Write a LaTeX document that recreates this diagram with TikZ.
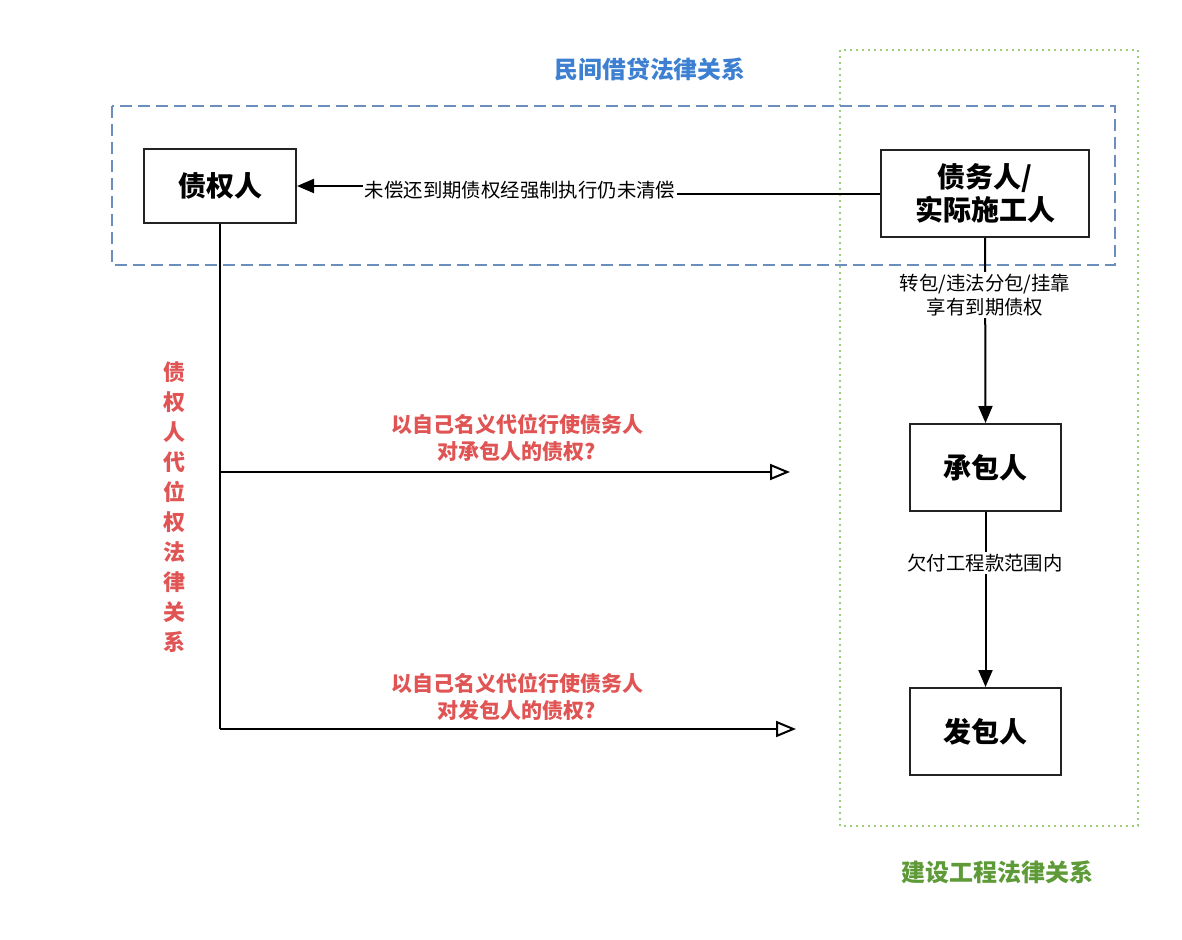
\documentclass[tikz,border=0pt]{standalone}
\usepackage{fontspec}
\setmainfont{Noto Sans CJK SC}
\usetikzlibrary{arrows.meta,calc}
\definecolor{bluedash}{HTML}{6C8EBF}
\definecolor{bluetitle}{HTML}{3D80D2}
\definecolor{greendot}{HTML}{9AD07A}
\definecolor{greentitle}{HTML}{5E9B38}
\definecolor{redtxt}{HTML}{E05454}
\definecolor{boxline}{HTML}{222222}
\tikzset{
  party/.style={draw=boxline, line width=2pt, align=center, inner sep=0pt,
    font=\fontsize{28}{33}\selectfont\bfseries},
  edgelabel/.style={fill=white, align=center, inner sep=2pt,
    font=\fontsize{19.4}{24}\selectfont},
  redlabel/.style={align=center, text=redtxt, font=\fontsize{21}{27}\selectfont\bfseries},
  conn/.style={line width=2pt, draw=black},
  solidarr/.style={conn, -{Triangle[length=17pt,width=14pt]}},
  openarr/.style={conn, -{Triangle[open,length=20pt,width=16pt,line width=2pt]}},
}
\begin{document}
\begin{tikzpicture}[x=1pt,y=-1pt]
\useasboundingbox (0,0) rectangle (1182,939);

% relation frames
\draw[greendot, line width=2pt, dash pattern=on 2pt off 4pt] (840,50) rectangle (1138,826);
\draw[bluedash, line width=2pt, dash pattern=on 12pt off 6pt] (112,106) rectangle (1115,265);

\node[text=bluetitle, font=\fontsize{23.8}{28}\selectfont\bfseries] (t1) at (650,69) {民间借贷法律关系};
\node[text=greentitle, font=\fontsize{24}{28}\selectfont\bfseries] (t2) at (997,872) {建设工程法律关系};

% parties
\node[party, minimum width=152pt, minimum height=74pt] (cred) at (220,186) {债权人};
\node[party, minimum width=208pt, minimum height=87pt] (debt) at (985,193.5) {债务人/\\实际施工人};
\node[party, minimum width=151pt, minimum height=87pt] (contr) at (985.5,467.5) {承包人};
\node[party, minimum width=151pt, minimum height=87pt] (owner) at (985.5,731.5) {发包人};

% debtor -> creditor
\coordinate (jog) at (520,190);
\draw[solidarr] (debt.west) -| (jog) |- (cred.east);
\node[edgelabel] (l1) at (jog) {未偿还到期债权经强制执行仍未清偿};

% debtor -> contractor -> owner
\draw[solidarr] (debt.south) -- (contr.north);
\node[edgelabel] (l2) at (985,295) {转包/违法分包/挂靠\\享有到期债权};
\draw[solidarr] (contr.south) -- (owner.north);
\node[edgelabel] (l3) at (985,563) {欠付工程款范围内};

% subrogation branches
\coordinate (b1) at (220,472);
\coordinate (e1) at (790,472);
\coordinate (e2) at (796,729);
\draw[conn] (cred.south) |- (e2 -| cred.south);
\draw[openarr] (e2 -| cred.south) -- (e2);
\draw[openarr] (b1) -- (e1);

\node[redlabel] (r1) at (517,438) {以自己名义代位行使债务人\\对承包人的债权?};
\node[redlabel] (r2) at (517,697) {以自己名义代位行使债务人\\对发包人的债权?};

\node[redlabel, font=\fontsize{22}{30}\selectfont\bfseries] (rv) at (174,507)
  {债\\权\\人\\代\\位\\权\\法\\律\\关\\系};
\end{tikzpicture}
\end{document}
